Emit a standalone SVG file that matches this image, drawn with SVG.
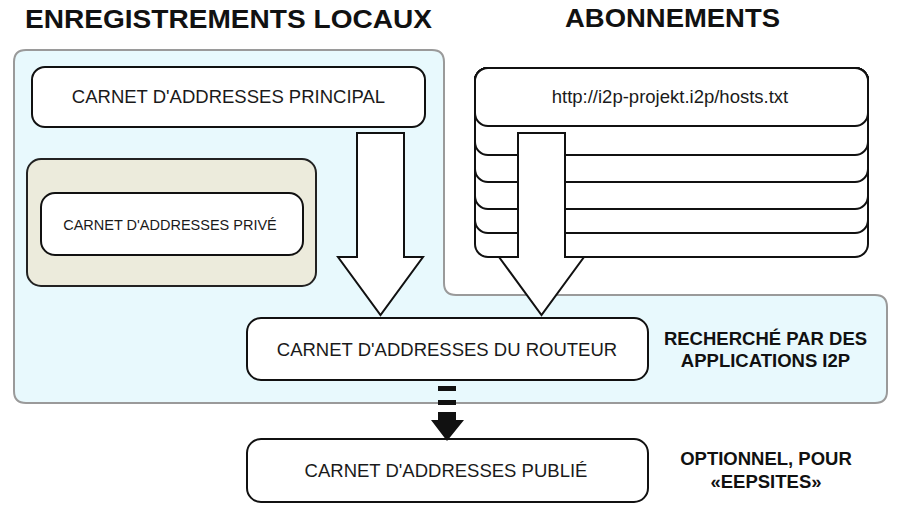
<svg xmlns="http://www.w3.org/2000/svg" width="902" height="510" viewBox="0 0 902 510">
<style>
.box{fill:#ffffff;stroke:#111;stroke-width:2}
.arrow{fill:#ffffff;stroke:#111;stroke-width:2;stroke-linejoin:miter}
.t{font-family:"Liberation Sans",Arial,sans-serif;font-size:18.5px;fill:#1a1a1a;text-anchor:middle}
.ts{font-family:"Liberation Sans",Arial,sans-serif;font-size:14.5px;fill:#1a1a1a;text-anchor:middle}
.lbl{font-family:"Liberation Sans",Arial,sans-serif;font-size:18.5px;font-weight:bold;fill:#111;text-anchor:middle}
.title{font-family:"Liberation Sans",Arial,sans-serif;font-size:26px;font-weight:bold;fill:#111}
</style>
<rect width="902" height="510" fill="#ffffff"/>
<g id="titles">
<text class="title" x="25" y="28" textLength="407" lengthAdjust="spacingAndGlyphs">ENREGISTREMENTS LOCAUX</text>
<text class="title" x="565" y="27" textLength="215" lengthAdjust="spacingAndGlyphs">ABONNEMENTS</text>
</g>
<g id="zone-locale">
<path d="M26,50 H432 Q444,50 444,62 V283 Q444,295 456,295 H875 Q887,295 887,307 V391 Q887,403 875,403 H26 Q14,403 14,391 V62 Q14,50 26,50 Z" fill="#e8f9fd" stroke="#9a9a9a" stroke-width="2"/>
</g>
<g id="principal">
<rect class="box" x="32" y="67" width="393" height="60" rx="13"/>
<text class="t" x="228.5" y="103">CARNET D'ADDRESSES PRINCIPAL</text>
</g>
<g id="prive">
<rect x="27" y="159" width="289" height="127" rx="14" fill="#ecebdc" stroke="#222" stroke-width="2"/>
<rect class="box" x="41" y="193" width="262" height="62" rx="14"/>
<text class="ts" x="170" y="230">CARNET D'ADDRESSES PRIVÉ</text>
</g>
<g id="abonnements">
<rect class="box" x="475" y="68" width="393" height="189" rx="13"/>
<rect class="box" x="475" y="68" width="393" height="165" rx="13"/>
<rect class="box" x="475" y="68" width="393" height="141" rx="13"/>
<rect class="box" x="475" y="68" width="393" height="114" rx="13"/>
<rect class="box" x="475" y="68" width="393" height="87" rx="13"/>
<rect class="box" x="475" y="68" width="393" height="58" rx="13"/>
<text class="t" x="670" y="103">http://i2p-projekt.i2p/hosts.txt</text>
</g>
<g id="routeur">
<rect class="box" x="247" y="318" width="401" height="62" rx="14"/>
<text class="t" x="447" y="356">CARNET D'ADDRESSES DU ROUTEUR</text>
</g>
<g id="publie">
<rect class="box" x="247" y="439" width="401" height="63" rx="14"/>
<text class="t" x="446" y="477">CARNET D'ADDRESSES PUBLIÉ</text>
</g>
<g id="connecteurs">
<polygon class="arrow" points="357,133 404,133 404,257 423,257 380.5,315 338,257 357,257"/>
<polygon class="arrow" points="518,133 565,133 565,257 584,257 541.5,315 499,257 518,257"/>
<rect x="438" y="386" width="18" height="5" fill="#111"/>
<rect x="438" y="400" width="18" height="5" fill="#111"/>
<polygon points="438,412 456,412 456,420 464,420 447,441 431,420 438,420" fill="#111"/>
</g>
<g id="notes">
<text class="lbl" x="765.5" y="345">RECHERCHÉ PAR DES</text>
<text class="lbl" x="765.5" y="367">APPLICATIONS I2P</text>
<text class="lbl" x="766" y="465">OPTIONNEL, POUR</text>
<text class="lbl" x="766" y="488">«EEPSITES»</text>
</g>
</svg>
